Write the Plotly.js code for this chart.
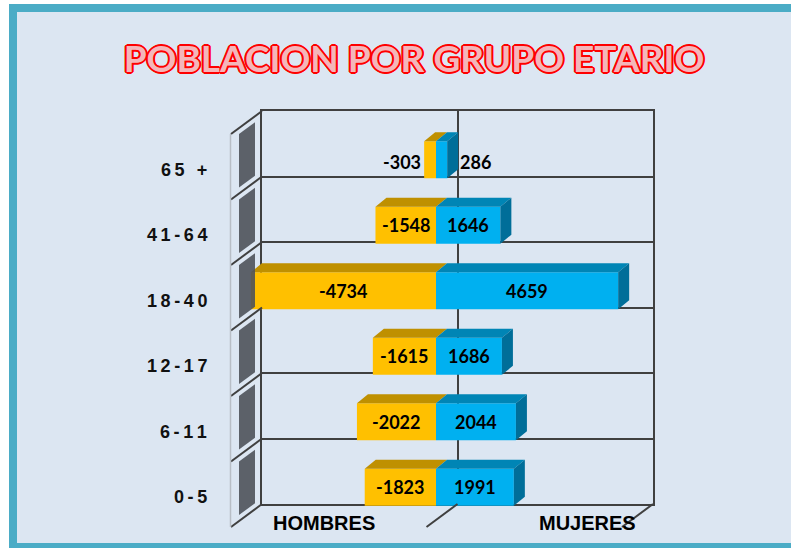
<!DOCTYPE html>
<html>
<head>
<meta charset="utf-8">
<script src="https://cdn.plot.ly/plotly-3.0.1.min.js"></script>
<style>html,body{margin:0;padding:0;background:#fff;}#chart{width:791px;height:548px;}</style>
</head>
<body>
<div id="chart"></div>
<script>
// ---- data (bottom row first) ----
const categories = ["0-5", "6-11", "12-17", "18-40", "41-64", "65 +"];
const hombres = [-1823, -2022, -1615, -4734, -1548, -303];
const mujeres = [1991, 2044, 1686, 4659, 1646, 286];
const sideLabels = ["HOMBRES", "MUJERES"];
const titleText = "POBLACION POR GRUPO ETARIO";

// ---- geometry helpers ----
const W = 791, H = 548;
const fx = x => x / W;
const fy = y => 1 - y / H;

const wallL = 262, wallR = 653, wallT = 111, wallB = 504;
const shiftX = -21.5, shiftY = 16;          // front plane of the bars vs back wall
const depthPX = 11, depthPY = 9;            // 3D depth of bars
const xRange = [-5000, 5000];
const unitPX = (wallR - wallL) / (xRange[1] - xRange[0]);
const rowPX = (wallB - wallT) / categories.length;
const dxU = depthPX / unitPX, dyU = depthPY / rowPX;
const bw = 0.565;

const idx = categories.map((c, i) => i);

const YEL = "#FFC000", YEL_TOP = "#BF9000";
const BLU = "#00B0F0", BLU_TOP = "#0085B5", BLU_SIDE = "#006E99";

// polygons for 3D faces
function poly(list) {
  const xs = [], ys = [];
  list.forEach(p => { p.forEach(q => { xs.push(q[0]); ys.push(q[1]); }); xs.push(p[0][0]); ys.push(p[0][1]); xs.push(null); ys.push(null); });
  return {xs, ys};
}
const yelTop = poly(hombres.map((v, i) => {
  const yt = i + bw / 2;
  return [[v, yt], [0, yt], [dxU, yt + dyU], [v + dxU, yt + dyU]];
}));
const bluTop = poly(mujeres.map((v, i) => {
  const yt = i + bw / 2;
  return [[0, yt], [v, yt], [v + dxU, yt + dyU], [dxU, yt + dyU]];
}));
const bluSide = poly(mujeres.map((v, i) => {
  const yt = i + bw / 2, yb = i - bw / 2;
  return [[v, yb], [v, yt], [v + dxU, yt + dyU], [v + dxU, yb + dyU]];
}));

const traces = [
  {type: "scatter", x: [0], y: [0], xaxis: "x", yaxis: "y", mode: "markers", marker: {opacity: 0}, hoverinfo: "skip", showlegend: false},
  {type: "bar", orientation: "h", name: "Hombres", x: hombres, y: idx, width: bw, xaxis: "x2", yaxis: "y2",
   marker: {color: YEL, line: {width: 0}}, showlegend: false},
  {type: "bar", orientation: "h", name: "Mujeres", x: mujeres, y: idx, width: bw, xaxis: "x2", yaxis: "y2",
   marker: {color: BLU, line: {width: 0}}, showlegend: false},
  {type: "scatter", x: yelTop.xs, y: yelTop.ys, xaxis: "x2", yaxis: "y2", mode: "lines", fill: "toself",
   fillcolor: YEL_TOP, line: {width: 0, color: YEL_TOP}, hoverinfo: "skip", showlegend: false},
  {type: "scatter", x: bluTop.xs, y: bluTop.ys, xaxis: "x2", yaxis: "y2", mode: "lines", fill: "toself",
   fillcolor: BLU_TOP, line: {width: 0, color: BLU_TOP}, hoverinfo: "skip", showlegend: false},
  {type: "scatter", x: bluSide.xs, y: bluSide.ys, xaxis: "x2", yaxis: "y2", mode: "lines", fill: "toself",
   fillcolor: BLU_SIDE, line: {width: 0, color: BLU_SIDE}, hoverinfo: "skip", showlegend: false}
];

// ---- decorations (walls / floor) ----
const LINE = "#404040";
const shapes = [];
// frame
shapes.push({type: "rect", xref: "paper", yref: "paper", x0: fx(13), x1: fx(812), y0: fy(547), y1: fy(8),
  line: {color: "#4BACC6", width: 8}, fillcolor: "#DCE6F2", layer: "below"});
const slX = 31, slY = 23;
// left wall slants
for (let b = 0; b <= categories.length; b++) {
  const y = wallT + b * rowPX;
  shapes.push({type: "line", xref: "paper", yref: "paper", x0: fx(wallL), y0: fy(y), x1: fx(wallL - slX), y1: fy(y + slY),
    line: {color: LINE, width: 2}});
}
// left wall dark blocks
for (let b = 0; b < categories.length; b++) {
  const y0 = wallT + b * rowPX, y1 = y0 + rowPX;
  const at = (y, x) => y + slY * (wallL - x) / slX;
  const xl = 239, xr = 255;
  shapes.push({type: "path", xref: "paper", yref: "paper",
    path: `M ${fx(xl)} ${fy(at(y0, xl) + 6)} L ${fx(xr)} ${fy(at(y0, xr) + 6)} L ${fx(xr)} ${fy(at(y1, xr) - 6)} L ${fx(xl)} ${fy(at(y1, xl) - 6)} Z`,
    fillcolor: "#4E525A", opacity: 0.9, line: {width: 0}});
}
// left wall front edge
shapes.push({type: "line", xref: "paper", yref: "paper", x0: fx(230.5), y0: fy(wallT + slY), x1: fx(230.5), y1: fy(wallB + slY),
  line: {color: "#B8BEC6", width: 1.5}});
// floor slants
[(wallL + wallR) / 2, wallR].forEach(x => {
  shapes.push({type: "line", xref: "paper", yref: "paper", x0: fx(x), y0: fy(wallB), x1: fx(x - slX), y1: fy(wallB + slY),
    line: {color: LINE, width: 2}});
});

// ---- annotations ----
const LBL = {family: "Lato, 'Open Sans', sans-serif", size: 18, color: "#000", weight: 700};
const ann = [];
hombres.forEach((v, i) => {
  const out = Math.abs(v) < 700;
  ann.push({xref: "x2", yref: "y2", x: out ? v : v / 2, y: i, text: String(v), showarrow: false,
    xanchor: out ? "right" : "center", xshift: out ? -1 : 0, yshift: out ? -2 : 0, font: LBL});
});
mujeres.forEach((v, i) => {
  const out = Math.abs(v) < 700;
  ann.push({xref: "x2", yref: "y2", x: out ? v : v / 2, y: i, text: String(v), showarrow: false,
    xanchor: out ? "left" : "center", xshift: out ? depthPX : 0, yshift: out ? -2 : 0, font: LBL});
});
// category labels (spaced out letters)
categories.forEach((c, i) => {
  const spaced = c.split("").map(ch => ch === " " ? "\u00a0" : ch).join("\u2009");
  ann.push({xref: "paper", yref: "y", x: fx(209), y: i, yshift: -26, xanchor: "right", yanchor: "middle",
    text: spaced, showarrow: false,
    font: {family: "'Liberation Sans', Arial, sans-serif", size: 18, color: "#111", weight: 700}});
});
// side labels
[[sideLabels[0], 323.5], [sideLabels[1], 587.5]].forEach(([t, x]) => {
  ann.push({xref: "paper", yref: "paper", x: fx(x), y: fy(523), xanchor: "center", yanchor: "middle", text: t, showarrow: false,
    font: {family: "'Liberation Sans', Arial, sans-serif", size: 20, color: "#000", weight: 700}});
});

const R = "#FF0000";
const outline = [
  `2px 0 0 ${R}`, `-2px 0 0 ${R}`, `0 2px 0 ${R}`, `0 -2px 0 ${R}`,
  `1.4px 1.4px 0 ${R}`, `-1.4px -1.4px 0 ${R}`, `1.4px -1.4px 0 ${R}`, `-1.4px 1.4px 0 ${R}`
].join(", ");

const layout = {
  width: W, height: H,
  margin: {l: 0, r: 0, t: 0, b: 0, pad: 0},
  paper_bgcolor: "#FFFFFF",
  plot_bgcolor: "rgba(0,0,0,0)",
  showlegend: false,
  barmode: "relative",
  title: {text: titleText, x: fx(414), xanchor: "center", xref: "paper", y: fy(59), yanchor: "middle", yref: "paper",
    font: {family: "Lato, 'Open Sans', sans-serif", size: 37, weight: 700, color: "#F4B6BA", shadow: outline}},
  xaxis: {domain: [fx(wallL), fx(wallR)], range: xRange, anchor: "y", showticklabels: false, ticks: "",
    showgrid: false, zeroline: true, zerolinecolor: LINE, zerolinewidth: 2,
    showline: true, mirror: true, linecolor: LINE, linewidth: 2, fixedrange: true},
  yaxis: {domain: [fy(wallB), fy(wallT)], range: [-0.5, categories.length - 0.5], anchor: "x",
    tickvals: idx.map(i => i + 0.5), showticklabels: false, ticks: "",
    showgrid: true, gridcolor: LINE, gridwidth: 2, zeroline: false,
    showline: true, mirror: true, linecolor: LINE, linewidth: 2, fixedrange: true},
  xaxis2: {domain: [fx(wallL + shiftX), fx(wallR + shiftX)], range: xRange, anchor: "y2", visible: false, fixedrange: true},
  yaxis2: {domain: [fy(wallB + shiftY), fy(wallT + shiftY)], range: [-0.5, categories.length - 0.5], anchor: "x2", visible: false, fixedrange: true},
  shapes: shapes,
  annotations: ann
};

Plotly.newPlot("chart", traces, layout, {displayModeBar: false, staticPlot: true});
</script>
</body>
</html>
